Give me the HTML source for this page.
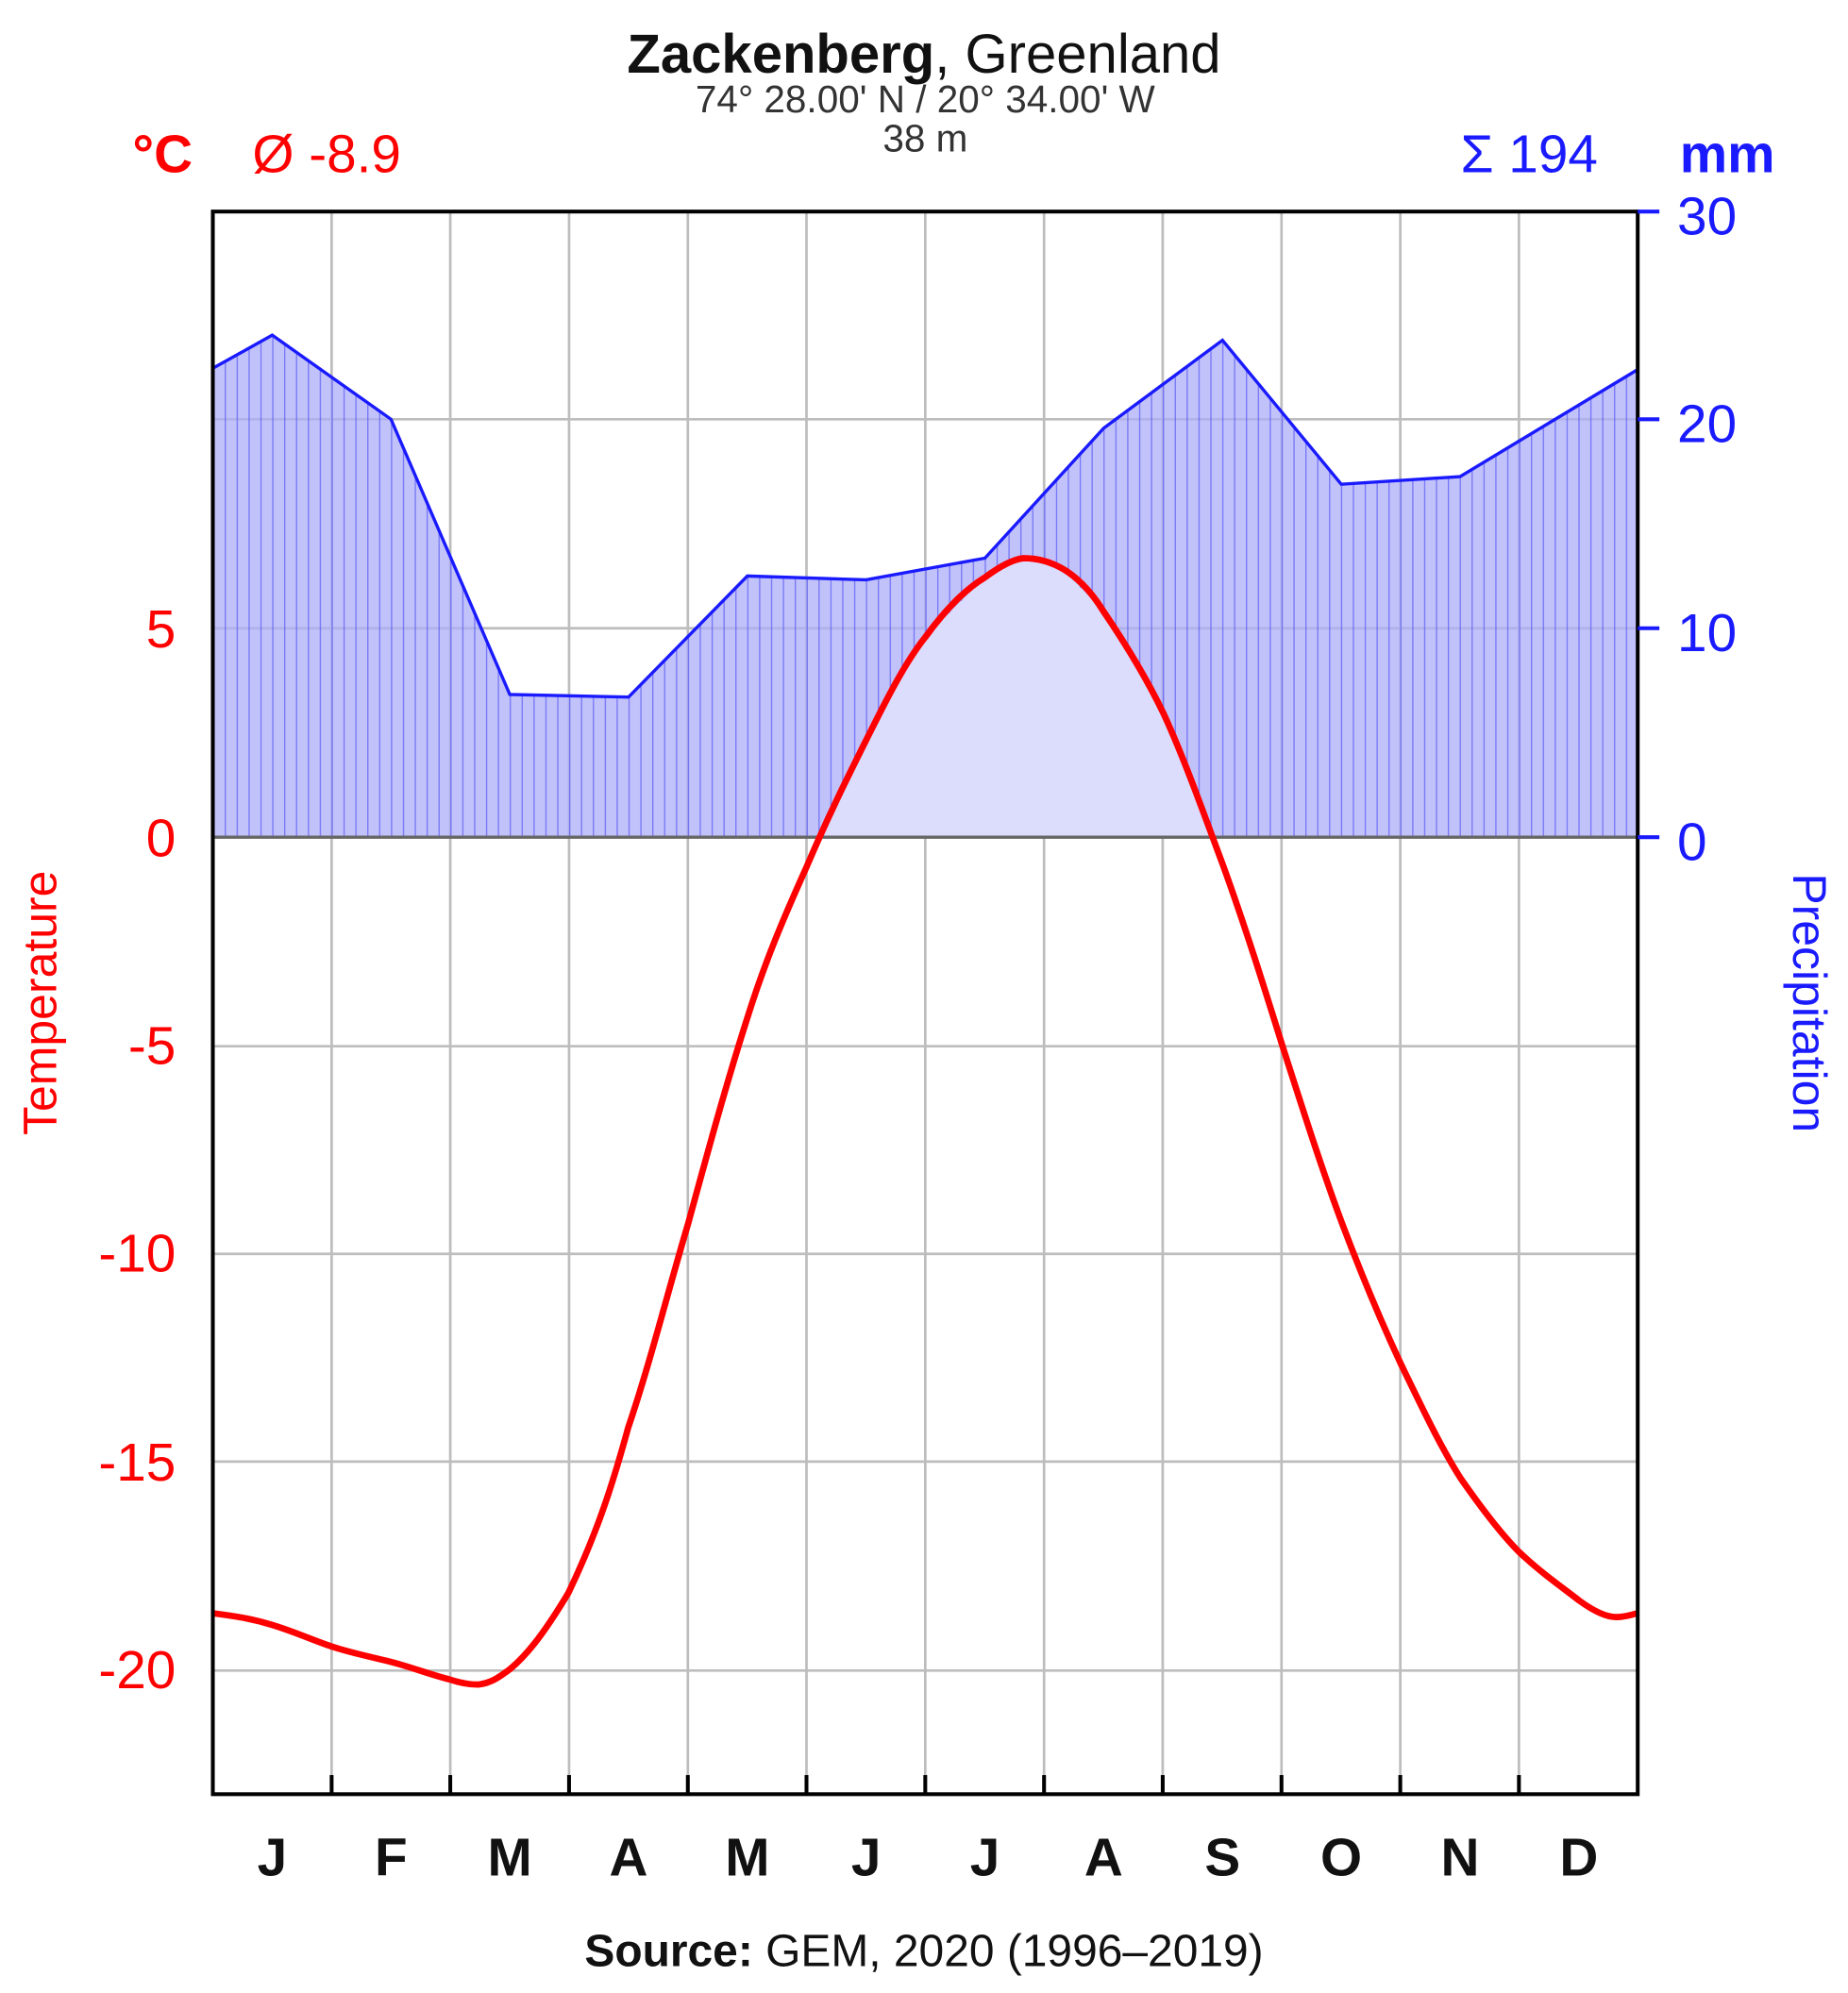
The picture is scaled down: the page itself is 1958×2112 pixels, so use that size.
<!DOCTYPE html>
<html><head><meta charset="utf-8"><style>html,body{margin:0;padding:0;background:#fff}svg{display:block}</style></head><body>
<svg width="1958" height="2112" viewBox="0 0 1450 1564" xmlns="http://www.w3.org/2000/svg" font-family="Liberation Sans, Arial, sans-serif">
<defs>
<clipPath id="pr"><path d="M167,289 L213.6,263 L306.8,329 L400,545 L493.2,547 L586.4,452 L679.6,455 L772.8,438 L866,336 L959.2,267 L1052.4,380 L1145.6,374 L1285,290 L1285,657 L167,657 Z"/></clipPath>
<pattern id="hatch" width="9.317" height="10" patternUnits="userSpaceOnUse" x="167"><line x1="0.5" y1="0" x2="0.5" y2="10" stroke="#3a3af0" stroke-width="1" stroke-opacity="0.55"/></pattern>
</defs>
<g stroke="#bdbdbd" stroke-width="2">
<line x1="167" y1="329" x2="1285" y2="329"/><line x1="167" y1="493" x2="1285" y2="493"/>
<line x1="167" y1="821" x2="1285" y2="821"/><line x1="167" y1="984" x2="1285" y2="984"/>
<line x1="167" y1="1147" x2="1285" y2="1147"/><line x1="167" y1="1311" x2="1285" y2="1311"/>
<line x1="260.2" y1="166" x2="260.2" y2="1408"/><line x1="353.3" y1="166" x2="353.3" y2="1408"/><line x1="446.5" y1="166" x2="446.5" y2="1408"/><line x1="539.7" y1="166" x2="539.7" y2="1408"/><line x1="632.8" y1="166" x2="632.8" y2="1408"/><line x1="726" y1="166" x2="726" y2="1408"/><line x1="819.2" y1="166" x2="819.2" y2="1408"/><line x1="912.3" y1="166" x2="912.3" y2="1408"/><line x1="1005.5" y1="166" x2="1005.5" y2="1408"/><line x1="1098.7" y1="166" x2="1098.7" y2="1408"/><line x1="1191.8" y1="166" x2="1191.8" y2="1408"/>
</g>
<g clip-path="url(#pr)">
<rect x="167" y="166" width="1118" height="491" fill="#aeaefa" fill-opacity="0.75"/>
<rect x="167" y="166" width="1118" height="491" fill="url(#hatch)"/>
<path d="M633,680 L680,580 L726,500 L773,453 L803,438 L830,443 L866,480 L913,560 L960,680 Z" fill="#dcdcfc"/>
</g>
<path d="M167,289 L213.6,263 L306.8,329 L400,545 L493.2,547 L586.4,452 L679.6,455 L772.8,438 L866,336 L959.2,267 L1052.4,380 L1145.6,374 L1285,290" fill="none" stroke="#1a1aff" stroke-width="2.5"/>
<line x1="167" y1="657" x2="1285" y2="657" stroke="#666" stroke-width="2.5"/>
<path d="M167,1266 C190,1269 200,1271 213,1275 C230,1280 245,1287 260,1292 C275,1297 290,1300 306,1304 C322,1308 340,1315 353,1318 C362,1321 368,1322 375,1322 C385,1321 392,1316 400,1310 C412,1300 425,1285 446,1250 C470,1200 482,1160 493,1120 C510,1070 525,1010 540,960 C555,905 570,850 586,800 C600,755 615,720 633,680 C650,640 665,610 680,580 C695,550 710,520 726,500 C742,478 758,462 773,453 C785,444 795,439 803,438 C815,438 825,441 835,447 C848,455 858,467 866,480 C885,508 900,533 913,560 C930,597 945,640 960,680 C977,727 992,775 1006,820 C1022,870 1037,917 1053,960 C1070,1005 1085,1040 1099,1070 C1115,1103 1130,1135 1146,1160 C1162,1183 1177,1203 1192,1218 C1210,1235 1225,1245 1239,1256 C1250,1264 1260,1269 1268,1269 C1276,1269 1280,1267 1285,1266" fill="none" stroke="#ff0000" stroke-width="5" stroke-linejoin="round"/>
<rect x="167" y="166" width="1118" height="1242" fill="none" stroke="#000" stroke-width="3"/>
<g stroke="#000" stroke-width="3">
<line x1="260.2" y1="1408" x2="260.2" y2="1393"/><line x1="353.3" y1="1408" x2="353.3" y2="1393"/><line x1="446.5" y1="1408" x2="446.5" y2="1393"/><line x1="539.7" y1="1408" x2="539.7" y2="1393"/><line x1="632.8" y1="1408" x2="632.8" y2="1393"/><line x1="726" y1="1408" x2="726" y2="1393"/><line x1="819.2" y1="1408" x2="819.2" y2="1393"/><line x1="912.3" y1="1408" x2="912.3" y2="1393"/><line x1="1005.5" y1="1408" x2="1005.5" y2="1393"/><line x1="1098.7" y1="1408" x2="1098.7" y2="1393"/><line x1="1191.8" y1="1408" x2="1191.8" y2="1393"/>
</g>
<g stroke="#1a1aff" stroke-width="3">
<line x1="1285" y1="166" x2="1302" y2="166"/><line x1="1285" y1="329" x2="1302" y2="329"/><line x1="1285" y1="493" x2="1302" y2="493"/><line x1="1285" y1="657" x2="1302" y2="657"/>
</g>
<g fill="#ff0000" font-size="42" text-anchor="end">
<text x="138" y="508">5</text><text x="138" y="672">0</text><text x="138" y="835">-5</text><text x="138" y="998">-10</text><text x="138" y="1162">-15</text><text x="138" y="1325">-20</text>
</g>
<g fill="#1a1aff" font-size="42">
<text x="1316" y="184">30</text><text x="1316" y="347">20</text><text x="1316" y="511">10</text><text x="1316" y="675">0</text>
</g>
<g font-size="42" font-weight="bold" text-anchor="middle" fill="#111">
<text x="213.6" y="1472">J</text><text x="306.8" y="1472">F</text><text x="400" y="1472">M</text><text x="493.2" y="1472">A</text><text x="586.4" y="1472">M</text><text x="679.6" y="1472">J</text><text x="772.8" y="1472">J</text><text x="866" y="1472">A</text><text x="959.2" y="1472">S</text><text x="1052.4" y="1472">O</text><text x="1145.6" y="1472">N</text><text x="1238.8" y="1472">D</text>
</g>
<text x="725" y="57" text-anchor="middle" font-size="43" fill="#111"><tspan font-weight="bold">Zackenberg</tspan>, Greenland</text>
<text x="726" y="88" text-anchor="middle" font-size="30" fill="#333">74° 28.00' N / 20° 34.00' W</text>
<text x="726" y="119" text-anchor="middle" font-size="30" fill="#333">38 m</text>
<text x="104" y="135" font-size="42" font-weight="bold" fill="#ff0000">°C</text>
<text x="198" y="135" font-size="42" fill="#ff0000">Ø -8.9</text>
<text x="1146" y="135" font-size="42" fill="#1a1aff">Σ 194</text>
<text x="1318" y="135" font-size="42" font-weight="bold" fill="#1a1aff">mm</text>
<text transform="translate(44,787) rotate(-90)" text-anchor="middle" font-size="37" fill="#ff0000">Temperature</text>
<text transform="translate(1407,787) rotate(90)" text-anchor="middle" font-size="37" fill="#1a1aff">Precipitation</text>
<text x="725" y="1543" text-anchor="middle" font-size="35.5" fill="#111"><tspan font-weight="bold">Source:</tspan> GEM, 2020 (1996–2019)</text>
</svg>
</body></html>
